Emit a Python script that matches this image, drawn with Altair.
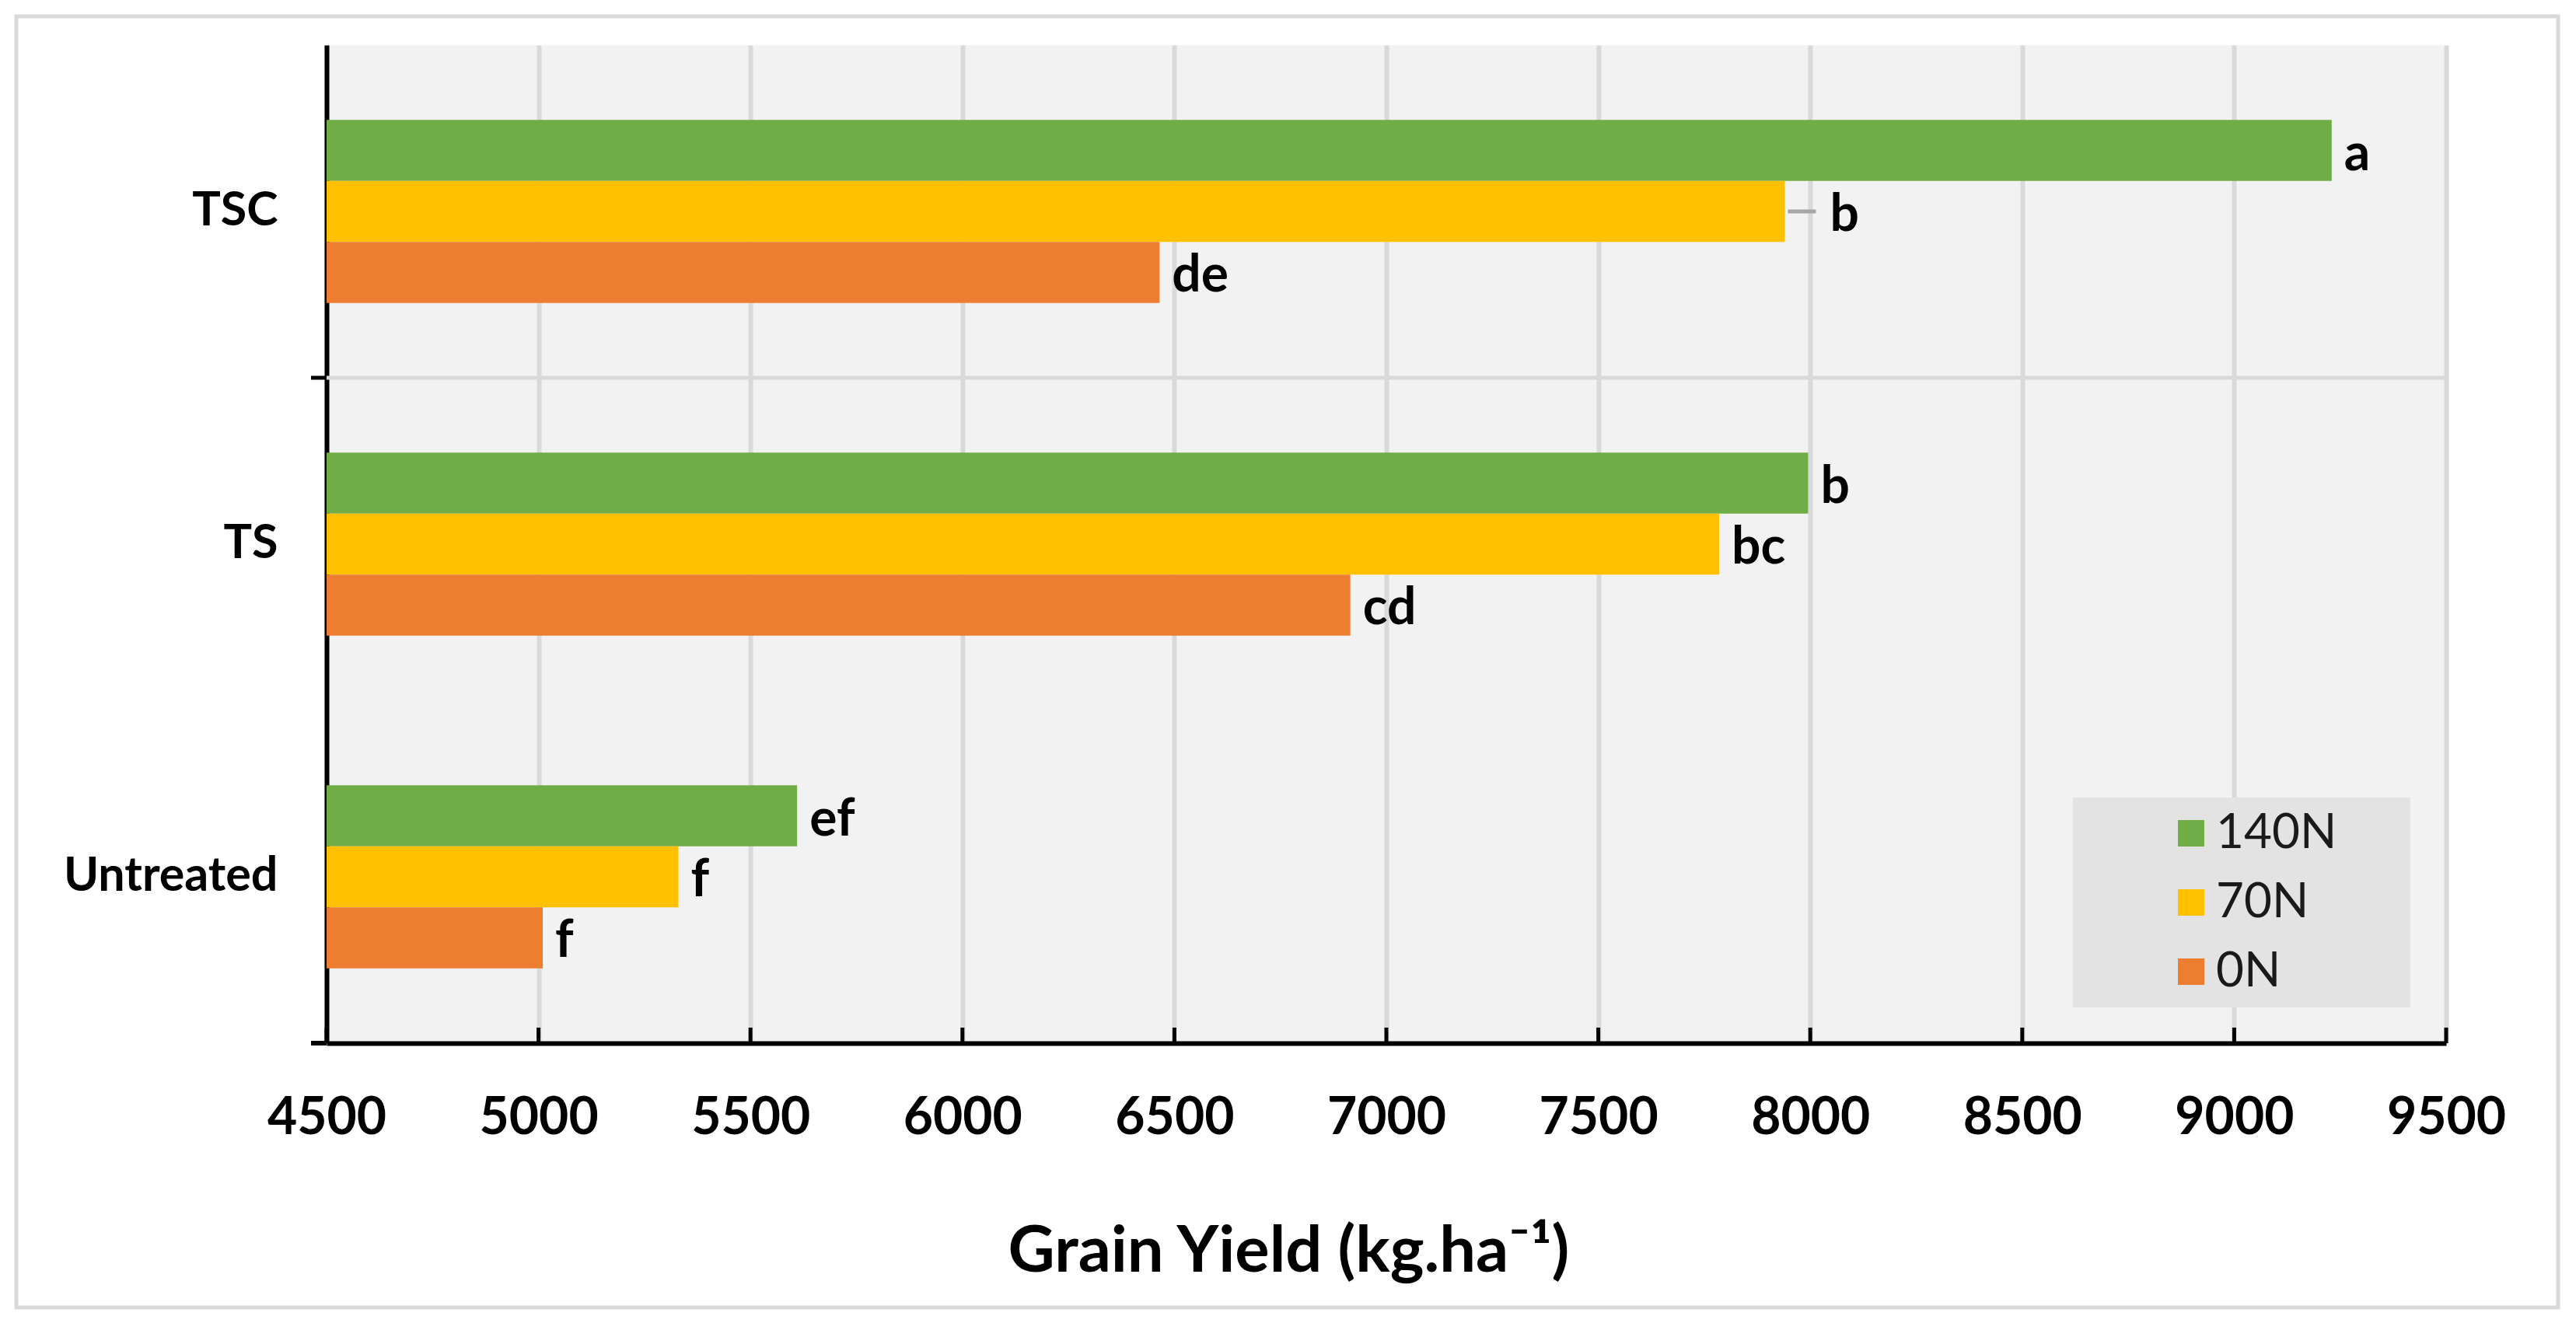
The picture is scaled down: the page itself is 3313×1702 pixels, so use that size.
import altair as alt
import pandas as pd

# ---- data ----
treatments = ["TSC", "TS", "Untreated"]
n_levels = ["140N", "70N", "0N"]
yield_140n = [9230, 7995, 5610]
yield_70n = [7940, 7785, 5330]
yield_0n = [6465, 6915, 5010]
letters_140n = ["a", "b", "ef"]
letters_70n = ["b", "bc", "f"]
letters_0n = ["de", "cd", "f"]
x_ticks = [4500, 5000, 5500, 6000, 6500, 7000, 7500, 8000, 8500, 9000, 9500]
colors = ["#70AD47", "#FFC000", "#ED7D31"]

rows = []
for lvl, ys, ls in zip(n_levels, [yield_140n, yield_70n, yield_0n],
                       [letters_140n, letters_70n, letters_0n]):
    for t, v, l in zip(treatments, ys, ls):
        rows.append({"Treatment": t, "N": lvl, "Yield": v, "Letter": l})
df = pd.DataFrame(rows)
tick_df = pd.DataFrame({"Yield": x_ticks})
boundary_df = pd.DataFrame({"Treatment": ["TSC"]})
one_df = pd.DataFrame({"k": [0]})

W, H = 2726, 1284
FONT = "Lato"
X_TITLE = "Grain Yield (kg.ha\u207b\u00b9)"
PAD_INNER, PAD_OUTER = 0.45, 0.225
STEP = H / 3.0

x_scale = alt.Scale(domain=[4500, 9500], nice=False, zero=False)
y_scale = alt.Scale(domain=treatments, paddingInner=PAD_INNER, paddingOuter=PAD_OUTER)
off_scale = alt.Scale(domain=n_levels, paddingInner=0, paddingOuter=0)
color_scale = alt.Scale(domain=n_levels, range=colors)

x_axis = alt.Axis(
    values=x_ticks, format="d", labelFont=FONT, labelFontSize=66,
    labelFontWeight="bold", labelColor="black", labelPadding=116,
    labelBaseline="alphabetic", labelFlush=False, labelOverlap=False,
    ticks=False, tickSize=0, domainColor="black", domainWidth=6,
    grid=True, gridColor="#D9D9D9", gridWidth=6,
    titleFont=FONT, titleFontSize=83, titleFontWeight="bold", titleColor="black",
    titleX=1237, titleY=293, titleAlign="center", titleBaseline="alphabetic",
    titleLimit=3000,
)
y_axis = alt.Axis(
    labelFont=FONT, labelFontSize=61, labelFontWeight="bold", labelColor="black",
    labelPadding=63, labelLimit=800, ticks=False, domainColor="black",
    domainWidth=6, grid=False,
)


def xenc():
    return alt.X("Yield:Q", scale=x_scale, axis=x_axis, title=X_TITLE)


def yenc(**kw):
    return alt.Y("Treatment:N", scale=y_scale, sort=treatments, axis=y_axis,
                 title=None, **kw)


yo = alt.YOffset("N:N", scale=off_scale, sort=n_levels)

base = alt.Chart(df)

bars = base.mark_bar().encode(
    x=xenc(),
    x2=alt.datum(4500),
    y=yenc(),
    yOffset=yo,
    color=alt.Color(
        "N:N", scale=color_scale, sort=n_levels,
        legend=alt.Legend(
            title=None, orient="bottom-right", offset=46, fillColor="#E3E3E3",
            padding=15, symbolType="square", symbolSize=1156, symbolStrokeWidth=0,
            symbolOffset=106, labelOffset=1, labelFont=FONT, labelFontSize=62,
            labelColor="#1a1a1a", rowPadding=27, labelLimit=600,
            labelExpr="datum.label + '\u00a0\u00a0\u00a0\u00a0\u00a0\u200b'",
        ),
    ),
)

is_leader = "datum.Treatment == 'TSC' && datum.N == '70N'"

labels = base.transform_filter("!(" + is_leader + ")").mark_text(
    align="left", baseline="middle", dx=16, dy=5, font=FONT, fontSize=66,
    fontWeight="bold", color="black",
).encode(x=xenc(), y=yenc(), yOffset=yo, text="Letter:N")

leader_labels = base.transform_filter(is_leader).mark_text(
    align="left", baseline="middle", dx=58, dy=5, font=FONT, fontSize=66,
    fontWeight="bold", color="black",
).encode(x=xenc(), y=yenc(), yOffset=yo, text="Letter:N")

leader = base.transform_filter(is_leader).mark_rule(
    color="#A6A6A6", strokeWidth=5, xOffset=4, x2Offset=40,
).encode(x=xenc(), x2=alt.X2("Yield:Q"), y=yenc(), yOffset=yo)

# boundary between the TSC and TS categories: end of TSC band + half the inner gap
gap_half = STEP * PAD_INNER / 2.0
hgrid = alt.Chart(boundary_df).mark_rule(
    color="#D9D9D9", strokeWidth=5, yOffset=gap_half
).encode(
    y=yenc(bandPosition=1),
    x=alt.value(0), x2=alt.value(W),
)
ytick = alt.Chart(boundary_df).mark_rule(
    color="black", strokeWidth=5, yOffset=gap_half
).encode(
    y=yenc(bandPosition=1),
    x=alt.value(-20), x2=alt.value(0),
)
ytick_bottom = alt.Chart(one_df).mark_rule(color="black", strokeWidth=6).encode(
    y=alt.value(H), x=alt.value(-20), x2=alt.value(0),
)
xticks = alt.Chart(tick_df).mark_rule(color="black", strokeWidth=5).encode(
    x=xenc(),
    y=alt.value(H - 20), y2=alt.value(H),
)
border = alt.Chart(one_df).mark_rect(
    fillOpacity=0, stroke="#D9D9D9", strokeWidth=5,
).encode(
    x=alt.value(-399), x2=alt.value(2870), y=alt.value(-37), y2=alt.value(1624),
)

chart = alt.layer(
    border, hgrid, bars, leader, labels, leader_labels, xticks, ytick, ytick_bottom
).properties(
    width=W, height=H,
    autosize=alt.AutoSizeParams(type="none"),
    padding={"left": 412, "top": 50, "right": 159, "bottom": 345},
).configure(font=FONT).configure_view(fill="#F2F2F2", strokeWidth=0)

chart.save("out.html", embed_options={"renderer": "svg", "actions": False})
